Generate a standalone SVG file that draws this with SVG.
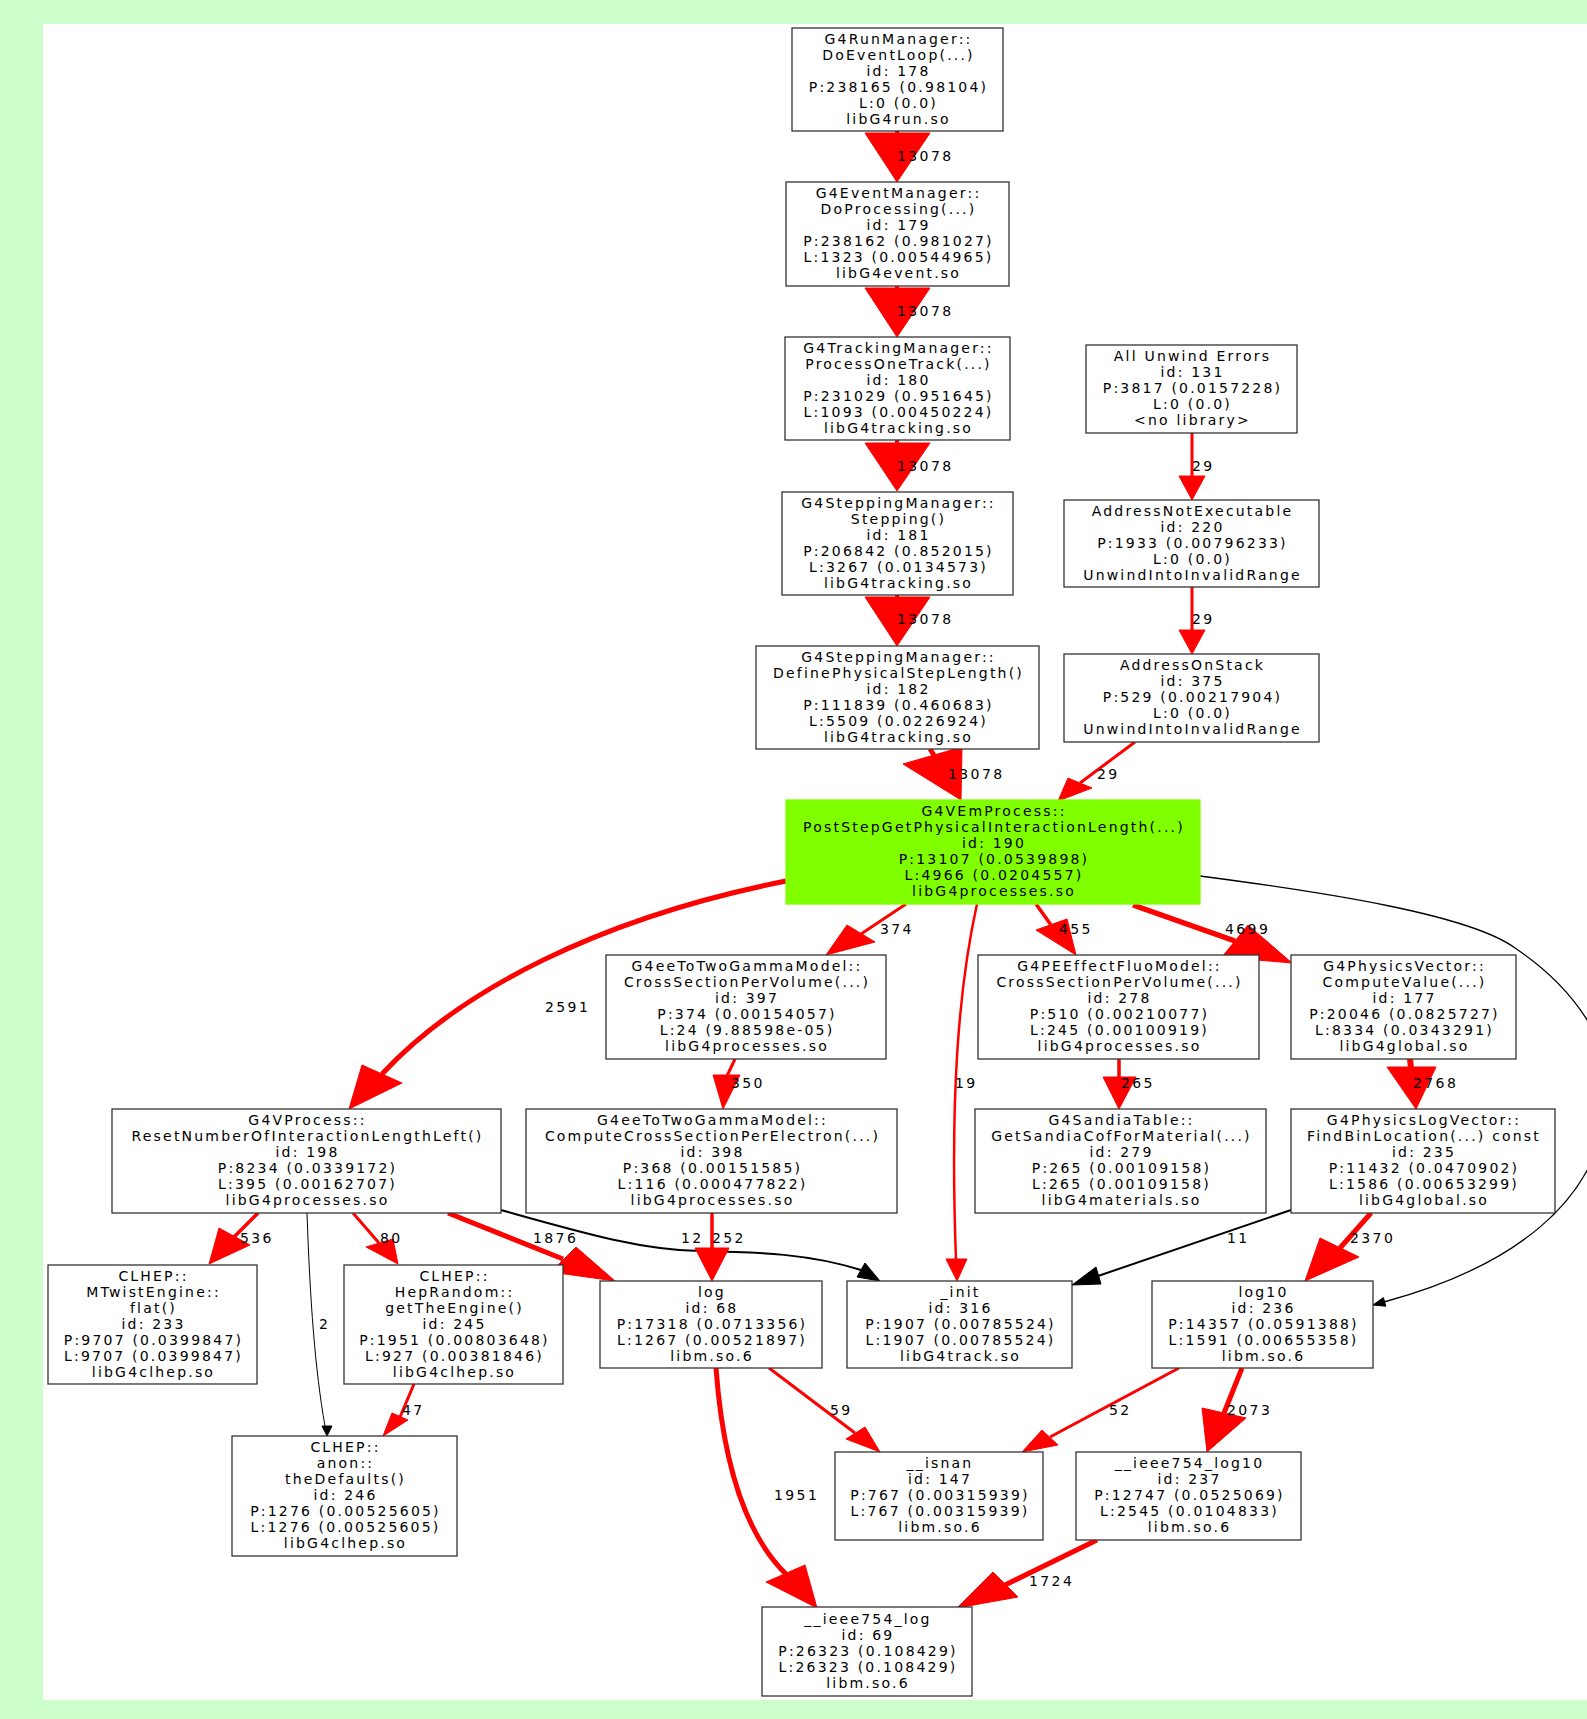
<svg xmlns="http://www.w3.org/2000/svg" width="1587" height="1719" viewBox="0 0 1587 1719">
<style>
.nt{font-family:"DejaVu Sans","Liberation Sans",sans-serif;font-size:14px;letter-spacing:2.2px;text-anchor:middle;fill:#000}
.el{font-family:"DejaVu Sans","Liberation Sans",sans-serif;font-size:14px;letter-spacing:2.4px;text-anchor:start;fill:#000}
.box{fill:#fff;stroke:#333;stroke-width:1.3}
.hot{fill:#7fff00;stroke:#7fff00;stroke-width:1.3}
.r{fill:none;stroke:#f00}
.rh{fill:#f00;stroke:#f00;stroke-width:1}
.k{fill:none;stroke:#000}
.kh{fill:#000;stroke:#000;stroke-width:1}
</style>
<rect x="0" y="0" width="1587" height="1719" fill="#ccffcc"/>
<rect x="43" y="24" width="1544" height="1676" fill="#fff"/>
<g id="connectors">
<g><path class="r" stroke-width="4" d="M897,131 L897,134"/><polygon class="rh" points="865,133 930,133 897,182"/><text class="el" x="897" y="161">13078</text></g>
<g><path class="r" stroke-width="4" d="M897,286 L897,289"/><polygon class="rh" points="865,288 930,288 897,337"/><text class="el" x="897" y="316">13078</text></g>
<g><path class="r" stroke-width="4" d="M897,440 L897,444"/><polygon class="rh" points="865,443 930,443 897,491"/><text class="el" x="897" y="471">13078</text></g>
<g><path class="r" stroke-width="4" d="M897,595 L897,598"/><polygon class="rh" points="865,597 930,597 897,646"/><text class="el" x="897" y="624">13078</text></g>
<g><path class="r" stroke-width="5" d="M930,749 L937,760"/><polygon class="rh" points="903,764 962,747 961,800"/><text class="el" x="948" y="779">13078</text></g>
<g><path class="r" stroke-width="3" d="M1192,433 L1192,477"/><polygon class="rh" points="1179,476 1205,476 1192,500"/><text class="el" x="1192" y="471">29</text></g>
<g><path class="r" stroke-width="3" d="M1192,587 L1192,631"/><polygon class="rh" points="1179,630 1205,630 1192,654"/><text class="el" x="1192" y="624">29</text></g>
<g><path class="r" stroke-width="3" d="M1135,742 L1080,783"/><polygon class="rh" points="1068,778 1092,788 1058,801"/><text class="el" x="1097" y="779">29</text></g>
<g><path class="r" stroke-width="5" d="M786,881 C600,918 460,990 382,1074"/><polygon class="rh" points="362,1065 402,1083 349,1109"/><text class="el" x="545" y="1012">2591</text></g>
<g><path class="r" stroke-width="3" d="M906,904 L861,934"/><polygon class="rh" points="847,925 875,942 826,955"/><text class="el" x="880" y="934">374</text></g>
<g><path class="r" stroke-width="3.5" d="M1036,904 L1051,925"/><polygon class="rh" points="1036,930 1067,919 1076,955"/><text class="el" x="1059" y="934">455</text></g>
<g><path class="r" stroke-width="5.5" d="M1133,905 L1235,941"/><polygon class="rh" points="1248,925 1222,957 1292,963"/><text class="el" x="1225" y="934">4699</text></g>
<g><path class="r" stroke-width="2.5" d="M977,904 C958,990 950,1100 956,1260"/><polygon class="rh" points="946,1259 967,1259 957,1281"/><text class="el" x="955" y="1088">19</text></g>
<g><path class="k" stroke-width="1.3" d="M1200,876 C1330,893 1470,915 1515,948 C1570,985 1625,1050 1605,1120 C1590,1200 1520,1265 1384,1302"/><polygon class="kh" points="1373,1305 1385.8,1306.2 1383.4,1297.6"/></g>
<g><path class="r" stroke-width="3" d="M735,1059 L727,1076"/><polygon class="rh" points="713,1075 740,1075 723,1109"/><text class="el" x="731" y="1088">350</text></g>
<g><path class="r" stroke-width="3.5" d="M1119,1059 L1119,1078"/><polygon class="rh" points="1103,1077 1136,1077 1119,1109"/><text class="el" x="1121" y="1088">265</text></g>
<g><path class="r" stroke-width="6" d="M1410,1059 L1411,1068"/><polygon class="rh" points="1387,1067 1436,1067 1416,1109"/><text class="el" x="1413" y="1088">2768</text></g>
<g><path class="r" stroke-width="3.5" d="M258,1213 L234,1237"/><polygon class="rh" points="219,1228 250,1245 209,1264"/><text class="el" x="240" y="1243">536</text></g>
<g><path class="r" stroke-width="3" d="M353,1213 L379,1243"/><polygon class="rh" points="366,1247 393,1239 398,1264"/><text class="el" x="380" y="1243">80</text></g>
<g><path class="r" stroke-width="5" d="M448,1213 L563,1259"/><polygon class="rh" points="551,1272 576,1247 615,1281"/><text class="el" x="533" y="1243">1876</text></g>
<g><path class="k" stroke-width="2" d="M501,1210 C580,1232 640,1250 700,1251 C760,1252 810,1254 861,1270"/><polygon class="kh" points="880,1281 857,1277 865,1263"/><text class="el" x="681" y="1243">12</text></g>
<g><path class="r" stroke-width="3.5" d="M712,1213 L712,1250"/><polygon class="rh" points="695,1248 729,1248 712,1281"/><text class="el" x="712" y="1243">252</text></g>
<g><path class="k" stroke-width="2" d="M1291,1210 L1098,1276"/><polygon class="kh" points="1072,1285 1101,1284 1096,1267"/><text class="el" x="1227" y="1243">11</text></g>
<g><path class="r" stroke-width="5" d="M1371,1213 L1340,1248"/><polygon class="rh" points="1320,1238 1359,1257 1305,1281"/><text class="el" x="1350" y="1243">2370</text></g>
<g><path class="r" stroke-width="3" d="M414,1384 L400,1417"/><polygon class="rh" points="392,1413 408,1420 383,1436"/><text class="el" x="402" y="1415">47</text></g>
<g><path class="k" stroke-width="1" d="M307,1213 C310,1300 315,1370 325,1426"/><polygon class="kh" points="322,1426 332,1426 327,1436"/><text class="el" x="319" y="1329">2</text></g>
<g><path class="r" stroke-width="5" d="M716,1368 C722,1450 740,1530 787,1575"/><polygon class="rh" points="766,1582 805,1565 817,1608"/><text class="el" x="774" y="1500">1951</text></g>
<g><path class="r" stroke-width="3" d="M769,1368 L855,1433"/><polygon class="rh" points="846,1439 865,1427 880,1452"/><text class="el" x="830" y="1415">59</text></g>
<g><path class="r" stroke-width="3" d="M1179,1368 L1050,1437"/><polygon class="rh" points="1042,1430 1058,1445 1022,1452"/><text class="el" x="1109" y="1415">52</text></g>
<g><path class="r" stroke-width="5" d="M1242,1368 L1224,1413"/><polygon class="rh" points="1202,1408 1246,1418 1207,1452"/><text class="el" x="1227" y="1415">2073</text></g>
<g><path class="r" stroke-width="5" d="M1097,1540 L1005,1585"/><polygon class="rh" points="993,1572 1018,1597 957,1608"/><text class="el" x="1029" y="1586">1724</text></g>
</g>
<g id="n178"><rect class="box" x="792" y="28" width="211" height="103"/><text class="nt"><tspan x="898.5" y="43.5">G4RunManager::</tspan><tspan x="898.5" y="59.5">DoEventLoop(...)</tspan><tspan x="898.5" y="75.5">id: 178</tspan><tspan x="898.5" y="91.5">P:238165 (0.98104)</tspan><tspan x="898.5" y="107.5">L:0 (0.0)</tspan><tspan x="898.5" y="123.5">libG4run.so</tspan></text></g>
<g id="n179"><rect class="box" x="786" y="182" width="223" height="104"/><text class="nt"><tspan x="898.5" y="198">G4EventManager::</tspan><tspan x="898.5" y="214">DoProcessing(...)</tspan><tspan x="898.5" y="230">id: 179</tspan><tspan x="898.5" y="246">P:238162 (0.981027)</tspan><tspan x="898.5" y="262">L:1323 (0.00544965)</tspan><tspan x="898.5" y="278">libG4event.so</tspan></text></g>
<g id="n180"><rect class="box" x="785" y="337" width="225" height="103"/><text class="nt"><tspan x="898.5" y="352.5">G4TrackingManager::</tspan><tspan x="898.5" y="368.5">ProcessOneTrack(...)</tspan><tspan x="898.5" y="384.5">id: 180</tspan><tspan x="898.5" y="400.5">P:231029 (0.951645)</tspan><tspan x="898.5" y="416.5">L:1093 (0.00450224)</tspan><tspan x="898.5" y="432.5">libG4tracking.so</tspan></text></g>
<g id="n131"><rect class="box" x="1086" y="345" width="211" height="88"/><text class="nt"><tspan x="1192.5" y="361">All Unwind Errors</tspan><tspan x="1192.5" y="377">id: 131</tspan><tspan x="1192.5" y="393">P:3817 (0.0157228)</tspan><tspan x="1192.5" y="409">L:0 (0.0)</tspan><tspan x="1192.5" y="425">&lt;no library&gt;</tspan></text></g>
<g id="n181"><rect class="box" x="782" y="492" width="231" height="103"/><text class="nt"><tspan x="898.5" y="507.5">G4SteppingManager::</tspan><tspan x="898.5" y="523.5">Stepping()</tspan><tspan x="898.5" y="539.5">id: 181</tspan><tspan x="898.5" y="555.5">P:206842 (0.852015)</tspan><tspan x="898.5" y="571.5">L:3267 (0.0134573)</tspan><tspan x="898.5" y="587.5">libG4tracking.so</tspan></text></g>
<g id="n220"><rect class="box" x="1064" y="500" width="255" height="87"/><text class="nt"><tspan x="1192.5" y="515.5">AddressNotExecutable</tspan><tspan x="1192.5" y="531.5">id: 220</tspan><tspan x="1192.5" y="547.5">P:1933 (0.00796233)</tspan><tspan x="1192.5" y="563.5">L:0 (0.0)</tspan><tspan x="1192.5" y="579.5">UnwindIntoInvalidRange</tspan></text></g>
<g id="n182"><rect class="box" x="756" y="646" width="283" height="103"/><text class="nt"><tspan x="898.5" y="661.5">G4SteppingManager::</tspan><tspan x="898.5" y="677.5">DefinePhysicalStepLength()</tspan><tspan x="898.5" y="693.5">id: 182</tspan><tspan x="898.5" y="709.5">P:111839 (0.460683)</tspan><tspan x="898.5" y="725.5">L:5509 (0.0226924)</tspan><tspan x="898.5" y="741.5">libG4tracking.so</tspan></text></g>
<g id="n375"><rect class="box" x="1064" y="654" width="255" height="88"/><text class="nt"><tspan x="1192.5" y="670">AddressOnStack</tspan><tspan x="1192.5" y="686">id: 375</tspan><tspan x="1192.5" y="702">P:529 (0.00217904)</tspan><tspan x="1192.5" y="718">L:0 (0.0)</tspan><tspan x="1192.5" y="734">UnwindIntoInvalidRange</tspan></text></g>
<g id="n190"><rect class="hot" x="786" y="800" width="414" height="104"/><text class="nt"><tspan x="994" y="816">G4VEmProcess::</tspan><tspan x="994" y="832">PostStepGetPhysicalInteractionLength(...)</tspan><tspan x="994" y="848">id: 190</tspan><tspan x="994" y="864">P:13107 (0.0539898)</tspan><tspan x="994" y="880">L:4966 (0.0204557)</tspan><tspan x="994" y="896">libG4processes.so</tspan></text></g>
<g id="n397"><rect class="box" x="606" y="955" width="280" height="104"/><text class="nt"><tspan x="747" y="971">G4eeToTwoGammaModel::</tspan><tspan x="747" y="987">CrossSectionPerVolume(...)</tspan><tspan x="747" y="1003">id: 397</tspan><tspan x="747" y="1019">P:374 (0.00154057)</tspan><tspan x="747" y="1035">L:24 (9.88598e-05)</tspan><tspan x="747" y="1051">libG4processes.so</tspan></text></g>
<g id="n278"><rect class="box" x="978" y="955" width="281" height="104"/><text class="nt"><tspan x="1119.5" y="971">G4PEEffectFluoModel::</tspan><tspan x="1119.5" y="987">CrossSectionPerVolume(...)</tspan><tspan x="1119.5" y="1003">id: 278</tspan><tspan x="1119.5" y="1019">P:510 (0.00210077)</tspan><tspan x="1119.5" y="1035">L:245 (0.00100919)</tspan><tspan x="1119.5" y="1051">libG4processes.so</tspan></text></g>
<g id="n177"><rect class="box" x="1291" y="955" width="225" height="104"/><text class="nt"><tspan x="1404.5" y="971">G4PhysicsVector::</tspan><tspan x="1404.5" y="987">ComputeValue(...)</tspan><tspan x="1404.5" y="1003">id: 177</tspan><tspan x="1404.5" y="1019">P:20046 (0.0825727)</tspan><tspan x="1404.5" y="1035">L:8334 (0.0343291)</tspan><tspan x="1404.5" y="1051">libG4global.so</tspan></text></g>
<g id="n198"><rect class="box" x="112" y="1109" width="389" height="104"/><text class="nt"><tspan x="307.5" y="1125">G4VProcess::</tspan><tspan x="307.5" y="1141">ResetNumberOfInteractionLengthLeft()</tspan><tspan x="307.5" y="1157">id: 198</tspan><tspan x="307.5" y="1173">P:8234 (0.0339172)</tspan><tspan x="307.5" y="1189">L:395 (0.00162707)</tspan><tspan x="307.5" y="1205">libG4processes.so</tspan></text></g>
<g id="n398"><rect class="box" x="526" y="1109" width="371" height="104"/><text class="nt"><tspan x="712.5" y="1125">G4eeToTwoGammaModel::</tspan><tspan x="712.5" y="1141">ComputeCrossSectionPerElectron(...)</tspan><tspan x="712.5" y="1157">id: 398</tspan><tspan x="712.5" y="1173">P:368 (0.00151585)</tspan><tspan x="712.5" y="1189">L:116 (0.000477822)</tspan><tspan x="712.5" y="1205">libG4processes.so</tspan></text></g>
<g id="n279"><rect class="box" x="975" y="1109" width="291" height="104"/><text class="nt"><tspan x="1121.5" y="1125">G4SandiaTable::</tspan><tspan x="1121.5" y="1141">GetSandiaCofForMaterial(...)</tspan><tspan x="1121.5" y="1157">id: 279</tspan><tspan x="1121.5" y="1173">P:265 (0.00109158)</tspan><tspan x="1121.5" y="1189">L:265 (0.00109158)</tspan><tspan x="1121.5" y="1205">libG4materials.so</tspan></text></g>
<g id="n235"><rect class="box" x="1291" y="1109" width="264" height="104"/><text class="nt"><tspan x="1424" y="1125">G4PhysicsLogVector::</tspan><tspan x="1424" y="1141">FindBinLocation(...) const</tspan><tspan x="1424" y="1157">id: 235</tspan><tspan x="1424" y="1173">P:11432 (0.0470902)</tspan><tspan x="1424" y="1189">L:1586 (0.00653299)</tspan><tspan x="1424" y="1205">libG4global.so</tspan></text></g>
<g id="n233"><rect class="box" x="48" y="1265" width="209" height="119"/><text class="nt"><tspan x="153.5" y="1280.5">CLHEP::</tspan><tspan x="153.5" y="1296.5">MTwistEngine::</tspan><tspan x="153.5" y="1312.5">flat()</tspan><tspan x="153.5" y="1328.5">id: 233</tspan><tspan x="153.5" y="1344.5">P:9707 (0.0399847)</tspan><tspan x="153.5" y="1360.5">L:9707 (0.0399847)</tspan><tspan x="153.5" y="1376.5">libG4clhep.so</tspan></text></g>
<g id="n245"><rect class="box" x="344" y="1265" width="219" height="119"/><text class="nt"><tspan x="454.5" y="1280.5">CLHEP::</tspan><tspan x="454.5" y="1296.5">HepRandom::</tspan><tspan x="454.5" y="1312.5">getTheEngine()</tspan><tspan x="454.5" y="1328.5">id: 245</tspan><tspan x="454.5" y="1344.5">P:1951 (0.00803648)</tspan><tspan x="454.5" y="1360.5">L:927 (0.00381846)</tspan><tspan x="454.5" y="1376.5">libG4clhep.so</tspan></text></g>
<g id="n68"><rect class="box" x="600" y="1281" width="222" height="87"/><text class="nt"><tspan x="712" y="1296.5">log</tspan><tspan x="712" y="1312.5">id: 68</tspan><tspan x="712" y="1328.5">P:17318 (0.0713356)</tspan><tspan x="712" y="1344.5">L:1267 (0.00521897)</tspan><tspan x="712" y="1360.5">libm.so.6</tspan></text></g>
<g id="n316"><rect class="box" x="847" y="1281" width="225" height="87"/><text class="nt"><tspan x="960.5" y="1296.5">_init</tspan><tspan x="960.5" y="1312.5">id: 316</tspan><tspan x="960.5" y="1328.5">P:1907 (0.00785524)</tspan><tspan x="960.5" y="1344.5">L:1907 (0.00785524)</tspan><tspan x="960.5" y="1360.5">libG4track.so</tspan></text></g>
<g id="n236"><rect class="box" x="1152" y="1281" width="221" height="87"/><text class="nt"><tspan x="1263.5" y="1296.5">log10</tspan><tspan x="1263.5" y="1312.5">id: 236</tspan><tspan x="1263.5" y="1328.5">P:14357 (0.0591388)</tspan><tspan x="1263.5" y="1344.5">L:1591 (0.00655358)</tspan><tspan x="1263.5" y="1360.5">libm.so.6</tspan></text></g>
<g id="n246"><rect class="box" x="232" y="1436" width="225" height="120"/><text class="nt"><tspan x="345.5" y="1452">CLHEP::</tspan><tspan x="345.5" y="1468">anon::</tspan><tspan x="345.5" y="1484">theDefaults()</tspan><tspan x="345.5" y="1500">id: 246</tspan><tspan x="345.5" y="1516">P:1276 (0.00525605)</tspan><tspan x="345.5" y="1532">L:1276 (0.00525605)</tspan><tspan x="345.5" y="1548">libG4clhep.so</tspan></text></g>
<g id="n147"><rect class="box" x="835" y="1452" width="208" height="88"/><text class="nt"><tspan x="940" y="1468">__isnan</tspan><tspan x="940" y="1484">id: 147</tspan><tspan x="940" y="1500">P:767 (0.00315939)</tspan><tspan x="940" y="1516">L:767 (0.00315939)</tspan><tspan x="940" y="1532">libm.so.6</tspan></text></g>
<g id="n237"><rect class="box" x="1076" y="1452" width="225" height="88"/><text class="nt"><tspan x="1189.5" y="1468">__ieee754_log10</tspan><tspan x="1189.5" y="1484">id: 237</tspan><tspan x="1189.5" y="1500">P:12747 (0.0525069)</tspan><tspan x="1189.5" y="1516">L:2545 (0.0104833)</tspan><tspan x="1189.5" y="1532">libm.so.6</tspan></text></g>
<g id="n69"><rect class="box" x="762" y="1607" width="210" height="89"/><text class="nt"><tspan x="868" y="1623.5">__ieee754_log</tspan><tspan x="868" y="1639.5">id: 69</tspan><tspan x="868" y="1655.5">P:26323 (0.108429)</tspan><tspan x="868" y="1671.5">L:26323 (0.108429)</tspan><tspan x="868" y="1687.5">libm.so.6</tspan></text></g>
</svg>
